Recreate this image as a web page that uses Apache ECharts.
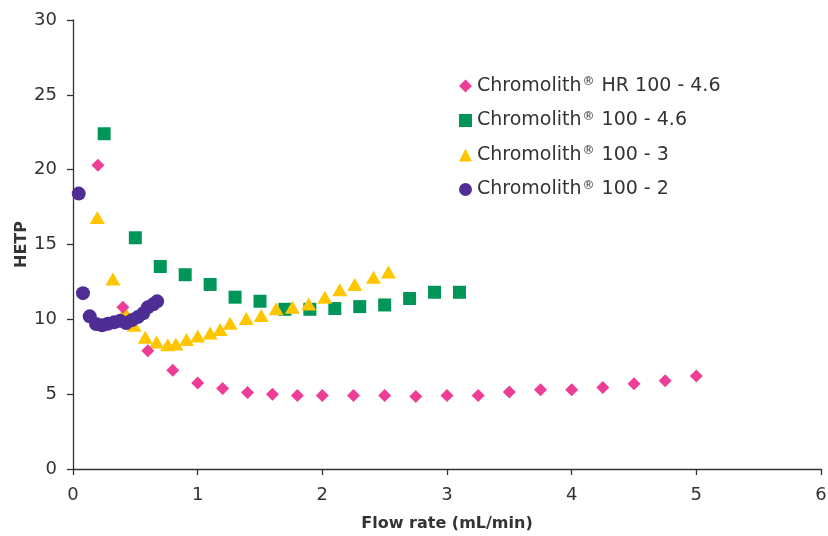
<!DOCTYPE html>
<html>
<head>
<meta charset="utf-8">
<script src="https://cdn.jsdelivr.net/npm/echarts@6/dist/echarts.min.js"></script>
<style>html,body{margin:0;padding:0;background:#fff}#c{width:828px;height:536px}</style>
</head>
<body>
<div id="c"></div>
<script>
const seriesNames = ['Chromolith® HR 100 - 4.6','Chromolith® 100 - 4.6','Chromolith® 100 - 3','Chromolith® 100 - 2'];

const hrX = [0.2,0.4,0.6,0.8,1.0,1.2,1.4,1.6,1.8,2.0,2.25,2.5,2.75,3.0,3.25,3.5,3.75,4.0,4.25,4.5,4.75,5.0];
const hrY = [20.3,10.8,7.9,6.6,5.74,5.38,5.11,5.0,4.91,4.91,4.91,4.91,4.84,4.91,4.91,5.14,5.29,5.29,5.45,5.69,5.9,6.21];

const c46X = [0.25,0.5,0.7,0.9,1.1,1.3,1.5,1.7,1.9,2.1,2.3,2.5,2.7,2.9,3.1];
const c46Y = [22.4,15.45,13.53,12.98,12.33,11.48,11.21,10.67,10.67,10.72,10.85,10.96,11.39,11.81,11.81];

const c3X = [0.195,0.32,0.415,0.49,0.58,0.67,0.76,0.825,0.91,1.0,1.1,1.18,1.26,1.39,1.51,1.63,1.76,1.89,2.02,2.14,2.26,2.41,2.53];
const c3Y = [16.8,12.7,10.5,9.6,8.8,8.49,8.3,8.35,8.66,8.88,9.09,9.32,9.73,10.06,10.25,10.7,10.8,11.03,11.47,11.97,12.32,12.81,13.17];

const c2X = [0.046,0.08,0.134,0.185,0.233,0.28,0.33,0.378,0.426,0.474,0.52,0.563,0.6,0.643,0.675];
const c2Y = [18.4,11.75,10.2,9.69,9.6,9.7,9.8,9.9,9.75,9.95,10.15,10.4,10.8,11.0,11.2];

const xTicks = [0,1,2,3,4,5,6];
const yTicks = [0,5,10,15,20,25,30];

function pairs(xs, ys){ return xs.map((x,i)=>[x, ys[i]]); }

const colors = ['#ee3d96','#00965a','#ffc600','#4e2e94'];
const FONT = 'DejaVu Sans';

const chart = echarts.init(document.getElementById('c'), null, {renderer:'canvas'});
chart.setOption({
  animation:false,
  backgroundColor:'#fff',
  textStyle:{fontFamily:FONT},
  grid:{left:73, right:7, top:20, bottom:67, containLabel:false, outerBoundsMode:'none'},
  legend:{
    orient:'vertical', left:454, top:71, itemGap:15, itemWidth:13, itemHeight:13,
    data:seriesNames,
    formatter:function(name){
      const p = name.split('®');
      return '{a|'+p[0]+'}{r|®}{a|'+p[1]+'}';
    },
    textStyle:{
      color:'#333', fontFamily:FONT, fontSize:19, padding:[0,0,0,0],
      rich:{
        a:{fontSize:19, color:'#333', fontFamily:FONT, lineHeight:20},
        r:{fontSize:12, color:'#333', fontFamily:FONT, verticalAlign:'top', lineHeight:20, padding:[0,1,6,1]}
      }
    }
  },
  xAxis:{
    type:'value', min:xTicks[0], max:xTicks[xTicks.length-1], interval:1,
    name:'Flow rate (mL/min)', nameLocation:'middle', nameGap:47, nameMoveOverlap:false,
    nameTextStyle:{fontWeight:'bold', fontSize:16, color:'#333', fontFamily:FONT},
    axisLine:{show:true, lineStyle:{color:'#333', width:1.3}},
    axisTick:{show:true, inside:false, length:6, lineStyle:{color:'#333', width:1.3}},
    axisLabel:{fontSize:18, color:'#333', margin:17, fontFamily:FONT},
    splitLine:{show:false}
  },
  yAxis:{
    type:'value', min:yTicks[0], max:yTicks[yTicks.length-1], interval:5,
    name:'HETP', nameLocation:'middle', nameGap:43, nameRotate:90, nameMoveOverlap:false,
    nameTextStyle:{fontWeight:'bold', fontSize:16, color:'#333', fontFamily:FONT},
    axisLine:{show:true, lineStyle:{color:'#333', width:1.3}},
    axisTick:{show:true, inside:false, length:6, lineStyle:{color:'#333', width:1.3}},
    axisLabel:{fontSize:18, color:'#333', margin:16, fontFamily:FONT},
    splitLine:{show:false}
  },
  series:[
    {name:seriesNames[0], type:'scatter', data:pairs(hrX,hrY), symbol:'diamond', symbolSize:13, itemStyle:{color:colors[0], opacity:1}, z:4},
    {name:seriesNames[1], type:'scatter', data:pairs(c46X,c46Y), symbol:'rect', symbolSize:13, itemStyle:{color:colors[1], opacity:1}, z:2},
    {name:seriesNames[2], type:'scatter', data:pairs(c3X,c3Y), symbol:'triangle', symbolSize:[15,13], itemStyle:{color:colors[2], opacity:1}, z:3},
    {name:seriesNames[3], type:'scatter', data:pairs(c2X,c2Y), symbol:'circle', symbolSize:14, itemStyle:{color:colors[3], opacity:1}, z:5}
  ]
});
</script>
</body>
</html>
